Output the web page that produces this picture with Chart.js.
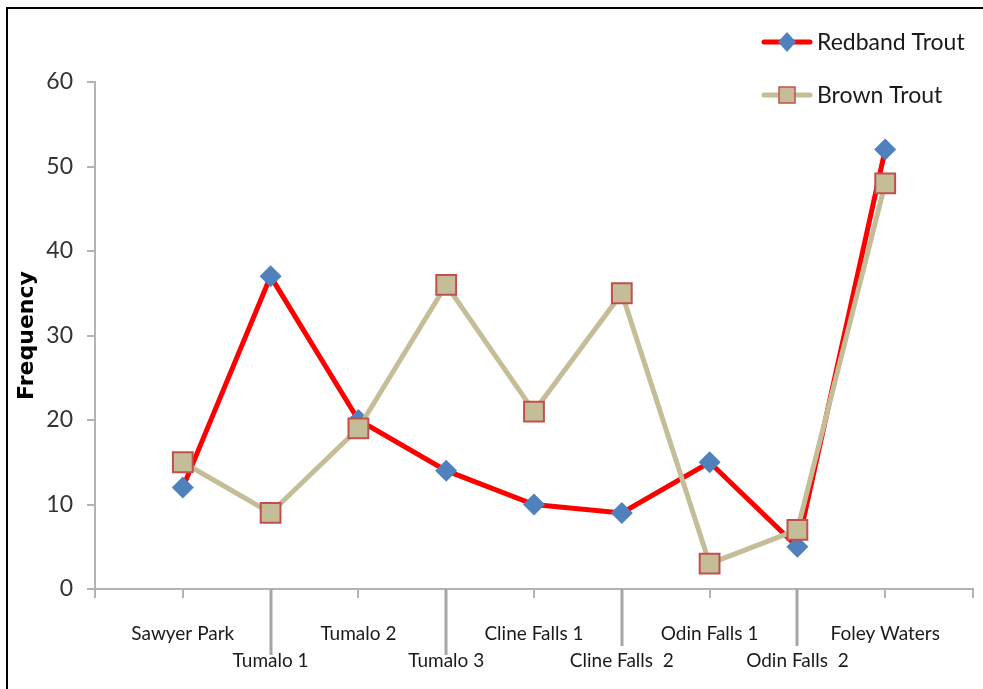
<!DOCTYPE html>
<html><head><meta charset="utf-8">
<script src="https://cdn.jsdelivr.net/npm/chart.js@4.4.1/dist/chart.umd.min.js"></script>
<style>
html,body{margin:0;padding:0;background:#fff;overflow:hidden;}
#wrap{position:relative;width:983px;height:689px;overflow:hidden;}
#frame{position:absolute;left:6px;top:7px;right:0;bottom:0;border-top:2px solid #000;border-left:2px solid #000;pointer-events:none;}
canvas{display:block}
</style></head><body>
<div id="wrap"><canvas id="c" width="989" height="689"></canvas><div id="frame"></div></div>
<script>
const categories = ['Sawyer Park','Tumalo 1','Tumalo 2','Tumalo 3','Cline Falls 1','Cline Falls  2','Odin Falls 1','Odin Falls  2','Foley Waters'];
const redbandTrout = [12,37,20,14,10,9,15,5,52];
const brownTrout = [15,9,19,36,21,35,3,7,48];
const seriesNames = ['Redband Trout','Brown Trout'];
const yTickValues = [0,10,20,30,40,50,60];
const yAxisTitle = 'Frequency';

const FONT = 'Lato, "Open Sans", sans-serif';
const RED = '#ff0000', BLUE = '#4f81bd', TAN = '#c4bd97', TANBORDER = '#c0504d';

const toPoints = arr => arr.map((v, i) => ({x: i + 1, y: v}));

const longTicks = {
  id: 'longTicks',
  afterDraw(chart) {
    const ctx = chart.ctx, xs = chart.scales.x, b = chart.chartArea.bottom;
    const ends = {2: 655, 4: 655, 6: 646, 8: 646};
    ctx.save();
    ctx.strokeStyle = '#a6a6a6';
    ctx.lineWidth = 3;
    categories.forEach((c, i) => {
      if (i % 2 === 1) {
        const x = Math.round(xs.getPixelForValue(i + 1));
        ctx.beginPath(); ctx.moveTo(x, b); ctx.lineTo(x, ends[i + 1]); ctx.stroke();
      }
    });
    ctx.restore();
  }
};

const customLegend = {
  id: 'customLegend',
  afterDraw(chart) {
    const ctx = chart.ctx;
    ctx.save();
    const items = [
      {name: seriesNames[0], y: 42, line: RED, lw: 5, marker: 'diamond'},
      {name: seriesNames[1], y: 95, line: TAN, lw: 5, marker: 'square'}
    ];
    items.forEach(it => {
      ctx.strokeStyle = it.line; ctx.lineWidth = it.lw; ctx.lineCap = 'round';
      ctx.beginPath(); ctx.moveTo(764, it.y); ctx.lineTo(810, it.y); ctx.stroke();
      const cx = 787;
      if (it.marker === 'diamond') {
        ctx.fillStyle = BLUE;
        ctx.beginPath();
        ctx.moveTo(cx, it.y - 10); ctx.lineTo(cx + 9, it.y); ctx.lineTo(cx, it.y + 10); ctx.lineTo(cx - 9, it.y);
        ctx.closePath(); ctx.fill();
      } else {
        ctx.fillStyle = TAN; ctx.strokeStyle = TANBORDER; ctx.lineWidth = 1.5;
        ctx.fillRect(cx - 8, it.y - 8, 16, 16);
        ctx.strokeRect(cx - 8, it.y - 8, 16, 16);
      }
      ctx.fillStyle = '#1a1a1a';
      ctx.font = '23px ' + FONT;
      ctx.textBaseline = 'middle';
      ctx.textAlign = 'left';
      ctx.fillText(it.name, 817, it.y + 1);
    });
    ctx.restore();
  }
};

new Chart(document.getElementById('c'), {
  type: 'line',
  data: {
    datasets: [
      {
        label: seriesNames[0], data: toPoints(redbandTrout), order: 1,
        borderColor: RED, borderWidth: 5, backgroundColor: BLUE,
        pointStyle: 'rectRot', pointRadius: 11, pointBackgroundColor: BLUE,
        pointBorderColor: BLUE, pointBorderWidth: 0, tension: 0
      },
      {
        label: seriesNames[1], data: toPoints(brownTrout), order: 0,
        borderColor: TAN, borderWidth: 5, backgroundColor: TAN,
        pointStyle: 'rect', pointRadius: 14, pointBackgroundColor: TAN,
        pointBorderColor: TANBORDER, pointBorderWidth: 2, tension: 0
      }
    ]
  },
  options: {
    responsive: false,
    animation: false,
    layout: {padding: {top: 82, right: 11, left: 0, bottom: 0}},
    plugins: {legend: {display: false}, tooltip: {enabled: false}},
    scales: {
      x: {
        type: 'linear', min: 0, max: 10,
        afterFit(s) { s.height = 100; s.paddingRight = 0; s.paddingLeft = 0; },
        afterBuildTicks(s) { s.ticks = Array.from({length: categories.length + 2}, (_, i) => ({value: i})); },
        grid: {drawOnChartArea: false, drawTicks: true, tickLength: 9, color: '#b3b3b3', lineWidth: 2},
        border: {color: '#b3b3b3', width: 2},
        ticks: {
          autoSkip: false, maxRotation: 0, minRotation: 0, padding: 22,
          color: '#1a1a1a', font: {family: FONT, size: 19, lineHeight: 1.42},
          callback(v) {
            const i = v - 1;
            if (i < 0 || i >= categories.length) return '';
            return i % 2 === 1 ? ['', categories[i]] : categories[i];
          }
        }
      },
      y: {
        type: 'linear', min: 0, max: 60,
        afterFit(s) { s.width = 95; },
        afterBuildTicks(s) { s.ticks = yTickValues.map(v => ({value: v})); },
        grid: {drawOnChartArea: false, drawTicks: true, tickLength: 8, color: '#b3b3b3', lineWidth: 2},
        border: {color: '#b3b3b3', width: 2},
        ticks: {padding: 14, color: '#333333', font: {family: FONT, size: 23}},
        title: {display: true, text: yAxisTitle, color: '#000', font: {family: '"DejaVu Sans", sans-serif', size: 22, weight: 'bold'}, padding: {top: 14, bottom: 0}}
      }
    }
  },
  plugins: [longTicks, customLegend]
});
</script>
</body></html>
